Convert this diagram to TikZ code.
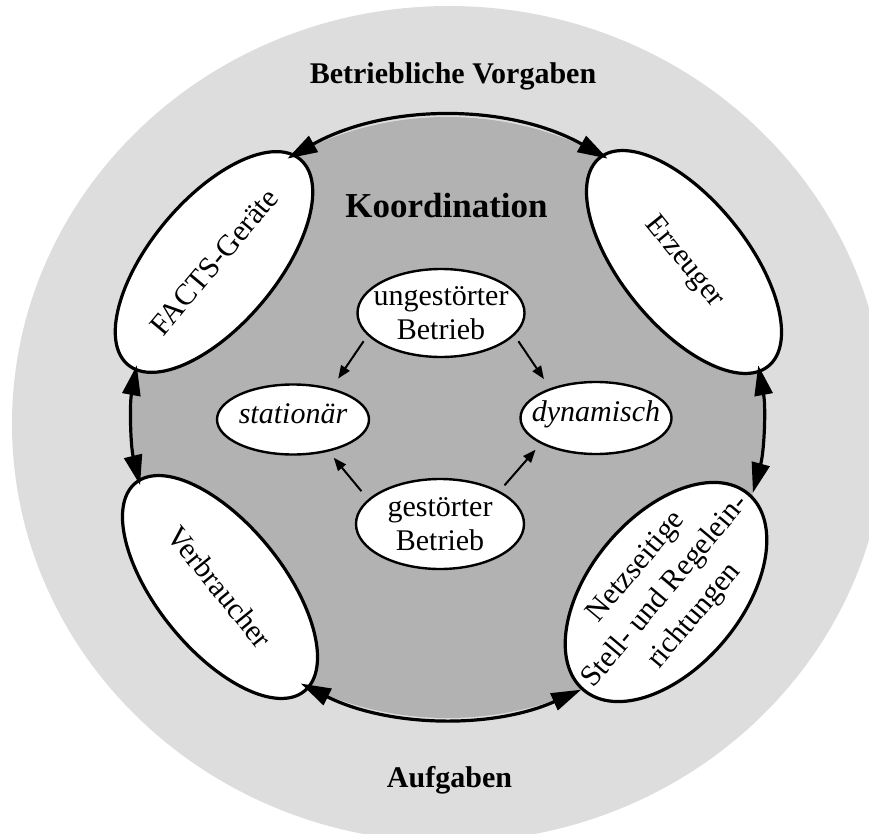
\documentclass[tikz,border=0pt]{standalone}
\usepackage{fontspec}
\setmainfont{Liberation Serif}
\usetikzlibrary{arrows.meta,shapes.geometric}
\definecolor{lightbg}{RGB}{221,221,221}
\definecolor{darkbg}{RGB}{178,178,178}
\begin{document}
\begin{tikzpicture}[x=1pt,y=-1pt,
  bigell/.style={ellipse, draw, line width=3.2pt, fill=white, inner sep=-80pt,
    font=\fontsize{30}{34}\selectfont, align=center},
  smallell/.style={ellipse, draw, line width=2.4pt, fill=white, inner sep=-80pt,
    font=\fontsize{30}{34}\selectfont, align=center},
  ringarrow/.style={line width=3.2pt,
    {Triangle[length=30pt,width=18pt]}-{Triangle[length=30pt,width=18pt]}},
  flow/.style={line width=2pt, -{Triangle[length=13pt,width=10pt]}},
  titletext/.style={font=\fontsize{30}{34}\selectfont\bfseries, anchor=base}
]
\useasboundingbox (0,0) rectangle (869,834);
\clip (0,0) rectangle (869,834);

% backgrounds
\fill[lightbg] (449,424) ellipse[x radius=437, y radius=418];
\fill[darkbg] (447.5,417.5) ellipse[x radius=315.5, y radius=300.5];

% titles
\node[titletext] (vorg) at (453,84) {Betriebliche Vorgaben};
\node[titletext, font=\fontsize{35}{40}\selectfont\bfseries] (koord) at (446.5,218) {Koordination};
\node[titletext] (aufg) at (449.5,787) {Aufgaben};

% inner ellipses
\node[smallell, minimum width=167, minimum height=88] (ung) at (441,313) {ungestörter\\Betrieb};
\node[smallell, minimum width=152, minimum height=70, text height=20pt, text depth=13pt,
  font=\fontsize{30}{34}\selectfont\itshape] (stat) at (293,419.5) {stationär};
\node[smallell, minimum width=151, minimum height=72, text height=20pt, text depth=13pt,
  font=\fontsize{30}{34}\selectfont\itshape] (dyn) at (596,418) {dynamisch};
\node[smallell, minimum width=168, minimum height=90] (gest) at (440,524) {gestörter\\Betrieb};

% outer ellipses
\node[bigell, minimum width=268, minimum height=126, rotate=50] (facts) at (214,262) {FACTS-Geräte};
\node[bigell, minimum width=268, minimum height=126, rotate=-51] (erz) at (684,262) {Erzeuger};
\node[bigell, minimum width=268, minimum height=126, rotate=-51] (verb) at (220,587) {Verbraucher};
\node[bigell, minimum width=256, minimum height=152, rotate=50,
  font=\fontsize{30}{38}\selectfont] (netz) at (666,592)
  {Netzseitige\\Stell- und Regelein-\\richtungen};

% ring arcs
\coordinate (topL) at ([shift={(447.5,417.5)}]-120.5:315.5 and 300.5);
\coordinate (leftT) at ([shift={(447.5,417.5)}]190:315.5 and 300.5);
\coordinate (rightT) at ([shift={(447.5,417.5)}]-10:315.5 and 300.5);
\coordinate (botR) at ([shift={(447.5,417.5)}]64.9:315.5 and 300.5);
\draw[ringarrow] (topL) arc[start angle=-120.5, end angle=-59.5, x radius=315.5, y radius=300.5];
\draw[ringarrow] (leftT) arc[start angle=190, end angle=167, x radius=315.5, y radius=300.5];
\draw[ringarrow] (rightT) arc[start angle=-10, end angle=14.5, x radius=315.5, y radius=300.5];
\draw[ringarrow] (botR) arc[start angle=64.9, end angle=117.7, x radius=315.5, y radius=300.5];

% inner arrows
\draw[flow, shorten <=7pt, shorten >=11.5pt] (ung.197) -- (stat.39);
\draw[flow, shorten <=7pt, shorten >=11pt] (ung.-17) -- (dyn.147);
\draw[flow, shorten <=10.5pt, shorten >=8pt] (gest.161.5) -- (stat.-42);
\draw[flow, shorten <=7.5pt, shorten >=7.8pt] (gest.29) -- (dyn.205);
\end{tikzpicture}
\end{document}
